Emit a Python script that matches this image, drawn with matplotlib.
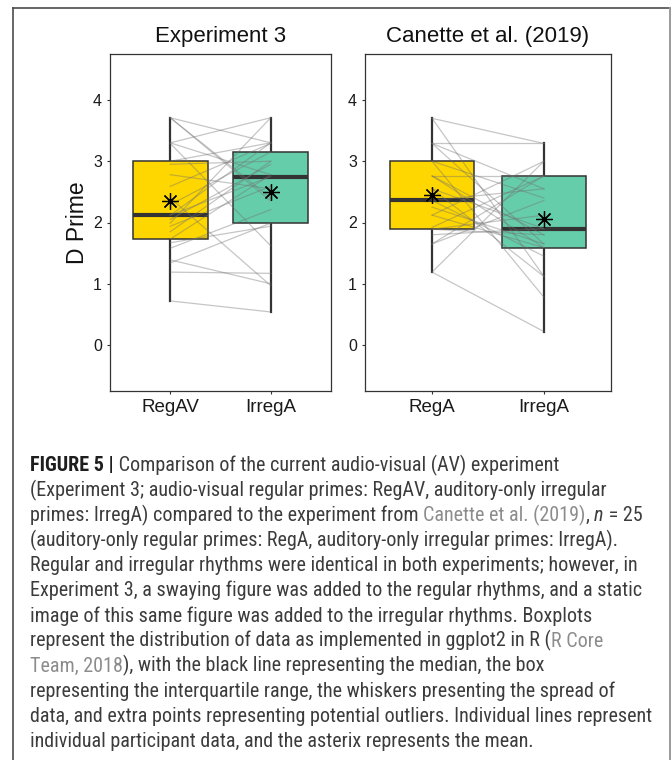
import numpy as np
import matplotlib
matplotlib.use("Agg")
import matplotlib.pyplot as plt
from matplotlib import font_manager
from matplotlib.lines import Line2D

W, H = 672, 760

# ---- data ----
panel_titles = ["Experiment 3", "Canette et al. (2019)"]
panel_cats = [["RegAV", "IrregA"], ["RegA", "IrregA"]]
box_colors = ["#FFD700", "#66CDAA"]
yticks = [0, 1, 2, 3, 4]

# Experiment 3, one value per participant
exp3_reg = [3.71, 3.71, 3.71, 3.30, 3.30, 3.29, 3.00, 2.95, 2.78, 2.59, 2.40, 2.29, 2.12,
            2.12, 2.05, 1.99, 1.94, 1.85, 1.73, 1.67, 1.58, 1.39, 1.34, 0.72, 1.19]
exp3_irr = [2.40, 3.30, 2.35, 3.71, 2.78, 1.62, 3.30, 3.00, 2.55, 3.29, 0.97, 3.15, 2.75,
            3.30, 2.95, 3.71, 2.59, 3.00, 2.78, 1.94, 2.21, 1.00, 1.99, 0.54, 1.17]

# Canette et al. (2019), n = 25
can_reg = [3.70, 3.70, 3.29, 3.29, 3.29, 3.00, 3.00, 2.76, 2.76, 2.76, 2.55, 2.55, 2.36,
           2.36, 2.25, 2.12, 2.12, 1.92, 1.89, 1.89, 1.80, 1.65, 1.65, 1.19, 1.19]
can_irr = [3.29, 1.12, 3.29, 1.65, 2.55, 0.78, 2.40, 1.59, 1.80, 2.76, 1.12, 1.90, 1.45,
           2.55, 1.65, 3.00, 1.59, 2.76, 1.80, 2.12, 1.90, 2.36, 2.76, 0.22, 3.00]

panels = [(exp3_reg, exp3_irr), (can_reg, can_irr)]

plt.rcParams['font.family'] = ['Liberation Sans', 'DejaVu Sans']

fig = plt.figure(figsize=(W / 100, H / 100), dpi=100)
fig.patch.set_facecolor('white')

def fx(x):
    return x / W

def fy(y):
    return 1 - y / H

# axes boxes in pixels: left, right
ax_px = [(110, 331), (365, 611)]
ax_top, ax_bot = 54, 391

for k in range(2):
    l, r = ax_px[k]
    ax = fig.add_axes([fx(l), fy(ax_bot), (r - l) / W, (ax_bot - ax_top) / H])
    reg, irr = panels[k]
    bp = ax.boxplot([reg, irr], positions=[1, 2], widths=0.75, patch_artist=True,
                    showcaps=False, showfliers=False, whis=1.5,
                    boxprops=dict(edgecolor='#333333', linewidth=1.1),
                    whiskerprops=dict(color='#333333', linewidth=1.6),
                    medianprops=dict(color='#333333', linewidth=3.0))
    for patch, c in zip(bp['boxes'], box_colors):
        patch.set_facecolor(c)
        patch.set_zorder(1)
    for wl in bp['whiskers']:
        wl.set_zorder(0.5)
    for a, b in zip(reg, irr):
        ax.plot([1, 2], [a, b], color='#707070', alpha=0.4, lw=0.9, zorder=3)
    ax.plot([1, 2], [np.mean(reg), np.mean(irr)], ls='none', marker=(8, 2, 0),
            ms=12, mec='black', mew=0.9, zorder=4)
    ax.plot([1, 2], [np.mean(reg), np.mean(irr)], ls='none', marker='o',
            ms=2.5, mfc='black', mec='black', zorder=4)

    ax.set_xlim(0.4, 2.6)
    ax.set_ylim(-0.75, 4.75)
    ax.set_xticks([1, 2])
    ax.set_xticklabels(panel_cats[k])
    ax.set_yticks(yticks)
    ax.set_yticklabels([str(v) for v in yticks])
    ax.tick_params(axis='both', length=2.2, width=0.8, color='#333333', pad=3.6)
    ax.tick_params(axis='y', labelsize=11.5, labelcolor='#1a1a1a')
    ax.tick_params(axis='x', labelsize=13.5, labelcolor='#1a1a1a')
    for s in ax.spines.values():
        s.set_color('#333333')
        s.set_linewidth(0.9)

    fig.text(fx((l + r) / 2), fy(42), panel_titles[k], ha='center', va='baseline',
             fontsize=16, color='#111111')

fig.text(fx(84), fy((ax_top + ax_bot) / 2), "D Prime", rotation=90, rotation_mode='anchor',
         ha='center', va='baseline', fontsize=16.5, color='#111111')

# outer frame of the figure panel
fig.add_artist(Line2D([fx(13), fx(13)], [fy(8), fy(762)], color='#4d4d4d', lw=1.2))
fig.add_artist(Line2D([fx(13), fx(670)], [fy(8), fy(8)], color='#4d4d4d', lw=1.2))
fig.add_artist(Line2D([fx(670), fx(670)], [fy(8), fy(762)], color='#9a9a9a', lw=1.4))

# ---- caption ----
# the caption is set in a condensed face; use one if there is any installed
cap_family, cap_stretch = 'Liberation Sans', 'normal'
cands = []
for f in font_manager.fontManager.ttflist:
    if f.style != 'normal' or f.weight not in (400, 'normal', 'regular'):
        continue
    if 'Narrow' in f.name or 'Condensed' in f.name or str(f.stretch) in ('condensed', 'semi-condensed'):
        rank = 0 if 'Liberation' in f.name else (1 if 'Roboto' in f.name else 2)
        cands.append((rank, f.name, str(f.stretch)))
if cands:
    cands.sort()
    cap_family, cap_stretch = cands[0][1], cands[0][2]

body = '#3c3c3c'
link = '#8c8c8c'
N = dict(color=body)
B = dict(color='#1e1e1e', weight='bold')
L = dict(color=link)
I = dict(color=body, style='italic')

caption = [
    [("FIGURE 5 |", B), (" Comparison of the current audio-visual (AV) experiment", N)],
    [("(Experiment 3; audio-visual regular primes: RegAV, auditory-only irregular", N)],
    [("primes: IrregA) compared to the experiment from ", N), ("Canette et al. (2019)", L),
     (", ", N), ("n", I), (" = 25", N)],
    [("(auditory-only regular primes: RegA, auditory-only irregular primes: IrregA).", N)],
    [("Regular and irregular rhythms were identical in both experiments; however, in", N)],
    [("Experiment 3, a swaying figure was added to the regular rhythms, and a static", N)],
    [("image of this same figure was added to the irregular rhythms. Boxplots", N)],
    [("represent the distribution of data as implemented in ggplot2 in R (", N), ("R Core", L)],
    [("Team, 2018", L), ("), with the black line representing the median, the box", N)],
    [("representing the interquartile range, the whiskers presenting the spread of", N)],
    [("data, and extra points representing potential outliers. Individual lines represent", N)],
    [("individual participant data, and the asterix represents the mean.", N)],
]

renderer = fig.canvas.get_renderer()

# pick a size so the three longest lines span, on average, the width seen in the reference
probe_w = 0
for idx in (2, 5, 10):
    s = "".join(t for t, _ in caption[idx])
    probe = fig.text(0, 0, s, family=cap_family, stretch=cap_stretch, fontsize=10)
    probe_w += probe.get_window_extent(renderer).width
    probe.remove()
cap_size = min(10 * 3 * 622 / probe_w, 15.5) * 0.985

y0, dy = 471, 25.1
for i, runs in enumerate(caption):
    x = 30
    for txt, st in runs:
        t = fig.text(fx(x), fy(y0 + i * dy), txt, ha='left', va='baseline',
                     family=cap_family, stretch=cap_stretch, fontsize=cap_size, **st)
        x += t.get_window_extent(renderer).width

fig.savefig("out.png", dpi=100, facecolor='white')
